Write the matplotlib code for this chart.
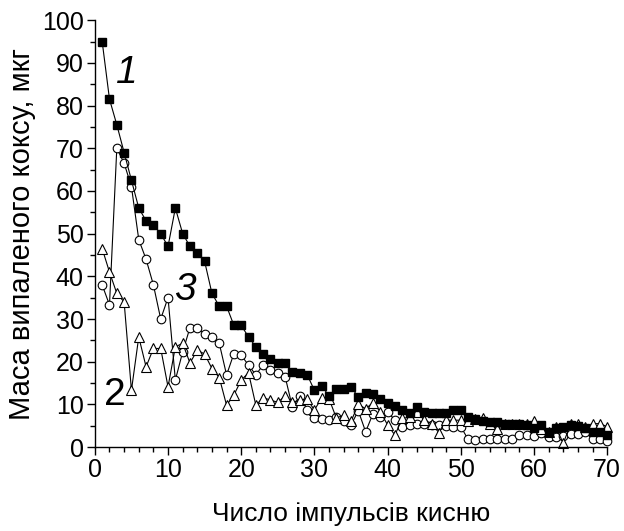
import numpy as np
import matplotlib.pyplot as plt
from matplotlib.ticker import MultipleLocator

plt.rcParams['font.family'] = ['Liberation Sans', 'DejaVu Sans']

# number of oxygen pulses
pulses = list(range(1, 71))

# curve 1 - filled squares
mass_1 = [95, 81.5, 75.5, 69, 62.5, 56, 53, 52, 50, 47,
          56, 50, 47, 45.5, 43.5, 36, 33, 33, 28.5, 28.5,
          25.8, 23.5, 21.8, 20.7, 19.6, 19.7, 17.6, 17.4, 17, 13.3,
          14.3, 12, 13.7, 13.5, 14, 11.8, 12.6, 12.4, 11.2, 10.4,
          9.6, 8.8, 8, 9.3, 8.3, 8, 8.1, 8, 8.7, 8.7,
          7.1, 6.5, 6.2, 5.8, 5.9, 5.5, 5.5, 5.3, 5.2, 4.4,
          5.2, 3.6, 4.4, 4.6, 5.2, 5, 4.5, 3.6, 3.6, 2.8]

# curve 2 - open triangles
mass_2 = [46.5, 41, 36, 34, 13.3, 25.8, 18.8, 23.1, 23.1, 14.1,
          23.5, 24.3, 19.7, 22.7, 21.8, 18.4, 16.3, 9.8, 12.2, 15.7,
          17.4, 9.8, 11.6, 11, 10.5, 12, 10.5, 11, 11.2, 8.7,
          11.5, 11.3, 6.8, 7.5, 6, 10, 9, 10.4, 8.3, 5.2,
          2.8, 6.7, 7, 8.3, 6.3, 5.5, 3.4, 6.3, 6.3, 6.3,
          6, 6.5, 6.7, 5.5, 4.2, 5.5, 5.5, 5.5, 5.5, 6.2,
          4.2, 3.5, 4.7, 0.9, 5.3, 5.3, 4.8, 5.5, 5.5, 4.8]

# curve 3 - open circles
mass_3 = [38, 33.3, 70, 66.5, 61, 48.6, 44, 38, 30, 35,
          15.7, 22.3, 28, 27.8, 26.6, 25.8, 24.3, 16.9, 21.9, 21.5,
          19.2, 16.9, 19.3, 18, 17.4, 16.5, 9.3, 12, 8.8, 6.8,
          6.6, 6.4, 7, 6, 5.2, 8.5, 3.6, 7.8, 7.1, 8.3,
          6.3, 4.8, 5.2, 5.4, 5.4, 5.2, 5.2, 5, 4.8, 4.8,
          1.8, 1.7, 1.8, 1.8, 1.9, 1.8, 1.8, 2.8, 2.9, 2.7,
          3.4, 2.3, 2.3, 2.7, 3.1, 3.1, 3.6, 2, 2, 1.5]

fig = plt.figure(figsize=(6.24, 5.31), dpi=100)
ax = fig.add_axes([0.152, 0.158, 0.821, 0.804])

ax.plot(pulses, mass_1, '-', color='black', lw=0.8, marker='s', ms=5.8,
        mfc='black', mec='black', clip_on=False, zorder=3)
ax.plot(pulses, mass_3, '-', color='black', lw=0.8, marker='o', ms=6.2,
        mfc='white', mec='black', mew=0.8, clip_on=False, zorder=2)
ax.plot(pulses, mass_2, '-', color='black', lw=0.8, marker='^', ms=6.8,
        mfc='white', mec='black', mew=0.8, clip_on=False, zorder=2)

ax.set_xlim(0, 70)
ax.set_ylim(0, 100)
ax.spines['top'].set_visible(False)
ax.spines['right'].set_visible(False)
for s in ['left', 'bottom']:
    ax.spines[s].set_linewidth(1.0)

ax.xaxis.set_major_locator(MultipleLocator(10))
ax.xaxis.set_minor_locator(MultipleLocator(2))
ax.yaxis.set_major_locator(MultipleLocator(10))
ax.yaxis.set_minor_locator(MultipleLocator(5))
ax.tick_params(which='major', direction='out', length=6, width=1, labelsize=18, pad=2)
ax.tick_params(which='minor', direction='out', length=3.5, width=1)

ax.set_xlabel('Число імпульсів кисню', fontsize=19, labelpad=14)
ax.set_ylabel('Маса випаленого коксу, мкг', fontsize=21, labelpad=4)

ax.text(4.3, 87.6, '1', fontsize=28, style='italic', ha='center', va='center')
ax.text(12.3, 36.8, '3', fontsize=28, style='italic', ha='center', va='center')
ax.text(2.7, 12.2, '2', fontsize=28, ha='center', va='center')

fig.savefig('out.png', dpi=100)
